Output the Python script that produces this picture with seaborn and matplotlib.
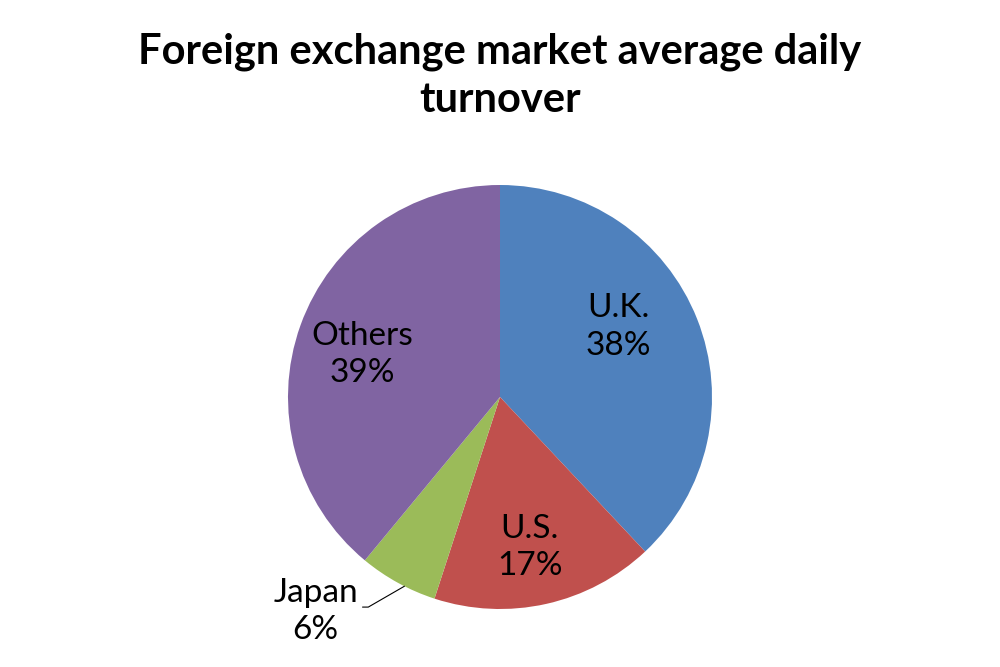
import numpy as np
import matplotlib
matplotlib.use("Agg")
import matplotlib.pyplot as plt
import seaborn as sns

# data
countries = ["U.K.", "U.S.", "Japan", "Others"]
shares = [38, 17, 6, 39]
colors = ["#4F81BD", "#C0504D", "#9BBB59", "#8064A2"]
title = "Foreign exchange market average daily\nturnover"

sns.set_theme(style="white")
plt.rcParams['font.family'] = ['Lato', 'DejaVu Sans']

fig = plt.figure(figsize=(10, 6.67), dpi=100)
ax = fig.add_axes([0.288, 58 / 667, 0.424, 424 / 667])

wedges, _ = ax.pie(shares, colors=sns.color_palette(colors), startangle=90,
                   counterclock=False, radius=1,
                   wedgeprops=dict(linewidth=0, edgecolor="none"))
ax.set_xlim(-1, 1)
ax.set_ylim(-1, 1)
ax.set_aspect("equal")

# label placement (fractions of radius), roughly like Excel's "best fit"
label_pos = {"U.K.": (0.56, 0.33), "U.S.": (0.14, -0.71), "Others": (-0.65, 0.2)}
for name, val in zip(countries, shares):
    if name in label_pos:
        x, y = label_pos[name]
        ax.text(x, y, f"{name}\n{val}%", ha="center", va="center",
                fontsize=24, color="black", linespacing=1.3)

# Japan label outside with leader line
i = countries.index("Japan")
w = wedges[i]
mid = np.deg2rad((w.theta1 + w.theta2) / 2 + 2)
ax.annotate(f"Japan\n{shares[i]}%", xy=(np.cos(mid), np.sin(mid)),
            xytext=(-0.87, -1.01), ha="center", va="center", fontsize=24,
            color="black", linespacing=1.3, annotation_clip=False,
            arrowprops=dict(arrowstyle="-", color="black", lw=0.8,
                            relpos=(1.0, 0.56), shrinkA=1, shrinkB=0,
                            connectionstyle="angle,angleA=0,angleB=30,rad=0"))

fig.text(0.5, 0.887, title, ha="center", va="center", fontsize=30,
         fontweight="bold", color="black", linespacing=1.32)

fig.savefig("out.png", dpi=100)
